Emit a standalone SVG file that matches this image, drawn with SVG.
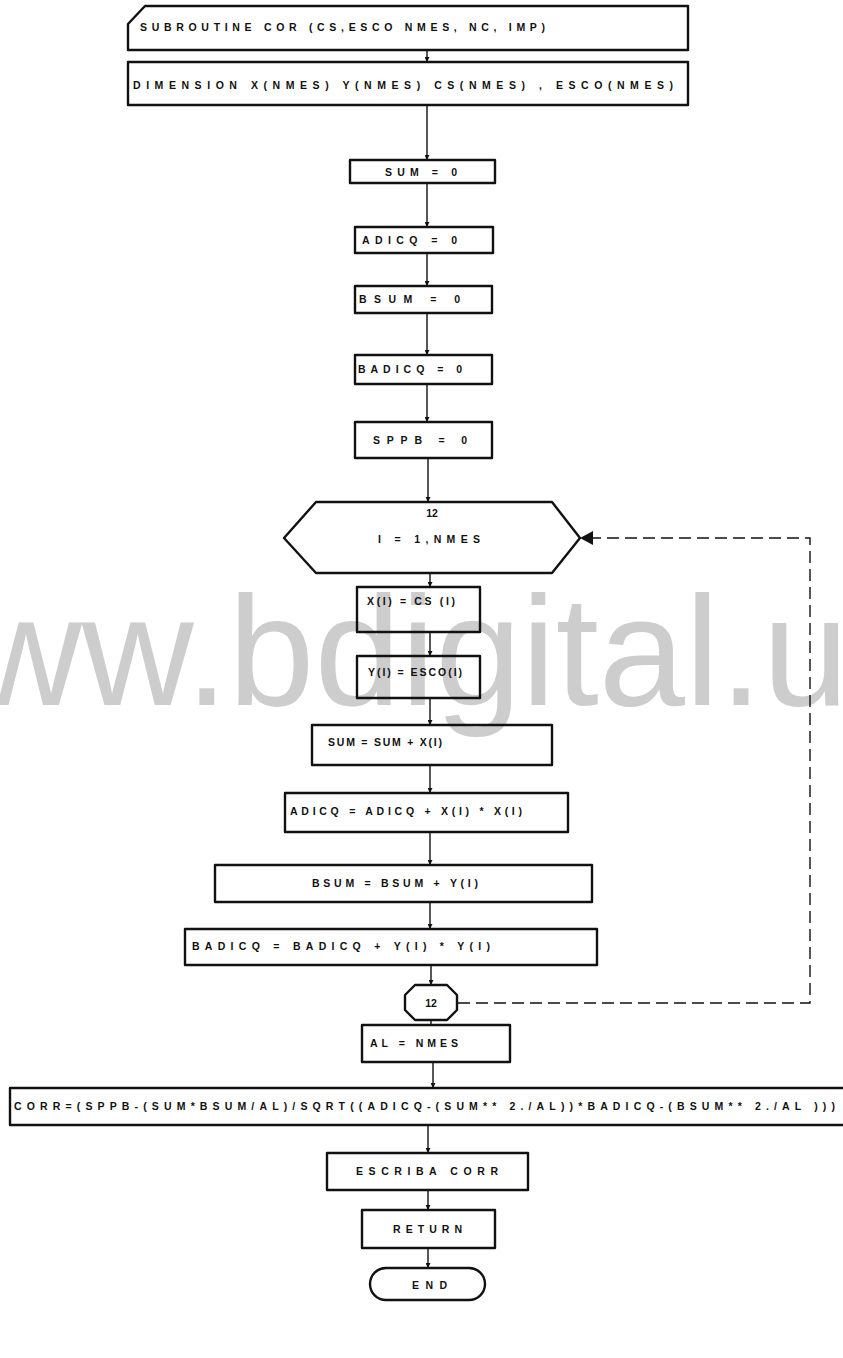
<svg xmlns="http://www.w3.org/2000/svg" width="843" height="1358" viewBox="0 0 843 1358">
  <style>
    .box { fill: none; stroke: #111; stroke-width: 2.4; stroke-linejoin: round; }
    .lbl { font-family: "Liberation Sans", Arial, sans-serif; font-weight: bold; font-size: 10.5px; fill: #111; }
    .mid { text-anchor: middle; }
    .flow { stroke: #111; stroke-width: 1.4; fill: none; }
    .loop { stroke: #111; stroke-width: 1.4; fill: none; stroke-dasharray: 12 6; }
    .wm { font-family: "Liberation Sans", Arial, sans-serif; font-size: 155px; fill: #cdcdcd; }
  </style>
  <defs>
    <marker id="tip" viewBox="0 0 6 6" refX="6" refY="3" markerWidth="5" markerHeight="5" orient="auto" markerUnits="userSpaceOnUse">
      <path d="M0,0 L6,3 L0,6 Z" fill="#111"/>
    </marker>
  </defs>
  <rect width="843" height="1358" fill="#fff"/>

  <!-- watermark -->
  <text class="wm" x="-142" y="705">www.bdigital.u</text>

  <!-- connectors -->
  <g id="connectors">
    <line class="flow" x1="427" y1="50" x2="427" y2="62" marker-end="url(#tip)"/>
    <line class="flow" x1="427" y1="105" x2="427" y2="160" marker-end="url(#tip)"/>
    <line class="flow" x1="427" y1="183" x2="427" y2="227" marker-end="url(#tip)"/>
    <line class="flow" x1="427" y1="253" x2="427" y2="286" marker-end="url(#tip)"/>
    <line class="flow" x1="427" y1="313" x2="427" y2="355" marker-end="url(#tip)"/>
    <line class="flow" x1="427" y1="384" x2="427" y2="422" marker-end="url(#tip)"/>
    <line class="flow" x1="428" y1="458" x2="428" y2="502" marker-end="url(#tip)"/>
    <line class="flow" x1="430" y1="573" x2="430" y2="587" marker-end="url(#tip)"/>
    <line class="flow" x1="430" y1="632" x2="430" y2="656" marker-end="url(#tip)"/>
    <line class="flow" x1="430" y1="698" x2="430" y2="725" marker-end="url(#tip)"/>
    <line class="flow" x1="430" y1="765" x2="430" y2="793" marker-end="url(#tip)"/>
    <line class="flow" x1="430" y1="832" x2="430" y2="865" marker-end="url(#tip)"/>
    <line class="flow" x1="430" y1="902" x2="430" y2="929" marker-end="url(#tip)"/>
    <line class="flow" x1="431" y1="965" x2="431" y2="985" marker-end="url(#tip)"/>
    <line class="flow" x1="431" y1="1020" x2="431" y2="1025"/>
    <line class="flow" x1="433" y1="1062" x2="433" y2="1088" marker-end="url(#tip)"/>
    <line class="flow" x1="428" y1="1125" x2="428" y2="1153" marker-end="url(#tip)"/>
    <line class="flow" x1="428" y1="1190" x2="428" y2="1210" marker-end="url(#tip)"/>
    <line class="flow" x1="428" y1="1248" x2="428" y2="1268" marker-end="url(#tip)"/>
    <!-- loop return: end connector back to the DO hexagon -->
    <polyline class="loop" points="458,1003 810,1003 810,538 592,538"/>
    <path d="M580,538 L593,531 L593,545 Z" fill="#111"/>
  </g>

  <g id="n-subroutine">
    <path class="box" d="M145,6 L688,6 L688,50 L128,50 L128,24 Z"/>
    <text class="lbl" x="140" y="31" textLength="405" lengthAdjust="spacing">SUBROUTINE COR (CS,ESCO NMES, NC, IMP)</text>
  </g>
  <g id="n-dimension">
    <rect class="box" x="128" y="62" width="560" height="43"/>
    <text class="lbl" x="133" y="89" textLength="540" lengthAdjust="spacing">DIMENSION X(NMES) Y(NMES) CS(NMES) , ESCO(NMES)</text>
  </g>
  <g id="n-sum0">
    <rect class="box" x="350" y="160" width="145" height="23"/>
    <text class="lbl" x="385" y="176" textLength="72" lengthAdjust="spacing">SUM = 0</text>
  </g>
  <g id="n-adicq0">
    <rect class="box" x="355" y="227" width="138" height="26"/>
    <text class="lbl" x="362" y="244" textLength="95" lengthAdjust="spacing">ADICQ = 0</text>
  </g>
  <g id="n-bsum0">
    <rect class="box" x="355" y="286" width="137" height="27"/>
    <text class="lbl" x="359" y="303" textLength="101" lengthAdjust="spacing">BSUM =   0</text>
  </g>
  <g id="n-badicq0">
    <rect class="box" x="355" y="355" width="137" height="29"/>
    <text class="lbl" x="358" y="373" textLength="104" lengthAdjust="spacing">BADICQ =  0</text>
  </g>
  <g id="n-sppb0">
    <rect class="box" x="355" y="422" width="137" height="36"/>
    <text class="lbl" x="373" y="444" textLength="94" lengthAdjust="spacing">SPPB =  0</text>
  </g>
  <g id="n-do12">
    <polygon class="box" points="284,538 316,502 552,502 580,538 552,573 316,573"/>
    <text class="lbl mid" x="432" y="517">12</text>
    <text class="lbl" x="378" y="543" textLength="102" lengthAdjust="spacing">I = 1,NMES</text>
  </g>
  <g id="n-xi">
    <rect class="box" x="357" y="587" width="123" height="45"/>
    <text class="lbl" x="367" y="605" textLength="88" lengthAdjust="spacing">X(I) = CS (I)</text>
  </g>
  <g id="n-yi">
    <rect class="box" x="357" y="656" width="123" height="42"/>
    <text class="lbl" x="368" y="676" textLength="94" lengthAdjust="spacing">Y(I) = ESCO(I)</text>
  </g>
  <g id="n-sum">
    <rect class="box" x="312" y="725" width="240" height="40"/>
    <text class="lbl" x="328" y="746" textLength="114" lengthAdjust="spacing">SUM = SUM +  X(I)</text>
  </g>
  <g id="n-adicq">
    <rect class="box" x="285" y="793" width="283" height="39"/>
    <text class="lbl" x="290" y="815" textLength="232" lengthAdjust="spacing">ADICQ = ADICQ + X(I) * X(I)</text>
  </g>
  <g id="n-bsum">
    <rect class="box" x="215" y="865" width="377" height="37"/>
    <text class="lbl" x="312" y="887" textLength="166" lengthAdjust="spacing">BSUM = BSUM  +  Y(I)</text>
  </g>
  <g id="n-badicq">
    <rect class="box" x="185" y="929" width="412" height="36"/>
    <text class="lbl" x="192" y="950" textLength="298" lengthAdjust="spacing">BADICQ = BADICQ  +  Y(I)  *  Y(I)</text>
  </g>
  <g id="n-end12">
    <polygon class="box" points="415,985 447,985 457,995 457,1010 447,1020 415,1020 405,1010 405,995"/>
    <text class="lbl mid" x="431" y="1007">12</text>
  </g>
  <g id="n-al">
    <rect class="box" x="362" y="1025" width="148" height="37"/>
    <text class="lbl" x="370" y="1047" textLength="88" lengthAdjust="spacing">AL = NMES</text>
  </g>
  <g id="n-corr">
    <rect class="box" x="10" y="1088" width="845" height="37"/>
    <text class="lbl" x="14" y="1110" textLength="821" lengthAdjust="spacing">CORR=(SPPB-(SUM*BSUM/AL)/SQRT((ADICQ-(SUM** 2./AL))*BADICQ-(BSUM** 2./AL )))</text>
  </g>
  <g id="n-escriba">
    <rect class="box" x="327" y="1153" width="201" height="37"/>
    <text class="lbl" x="356" y="1175" textLength="142" lengthAdjust="spacing">ESCRIBA CORR</text>
  </g>
  <g id="n-return">
    <rect class="box" x="362" y="1210" width="133" height="38"/>
    <text class="lbl" x="393" y="1233" textLength="69" lengthAdjust="spacing">RETURN</text>
  </g>
  <g id="n-end">
    <rect class="box" x="370" y="1268" width="115" height="32" rx="16" ry="16"/>
    <text class="lbl" x="412" y="1289" textLength="35" lengthAdjust="spacing">END</text>
  </g>
</svg>
